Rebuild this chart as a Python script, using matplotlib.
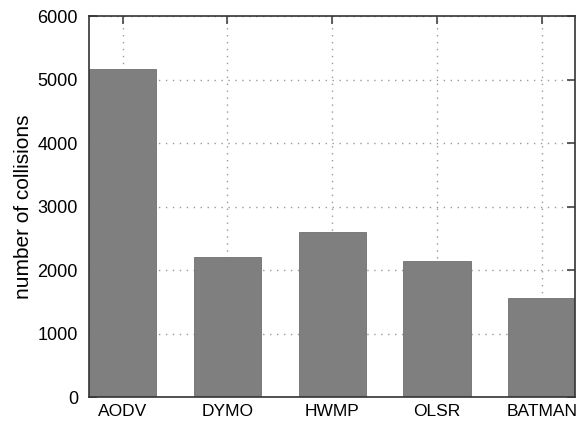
import matplotlib
matplotlib.use("Agg")
import matplotlib.pyplot as plt
import numpy as np

protocols = ["AODV", "DYMO", "HWMP", "OLSR", "BATMAN"]
collisions = [5165, 2205, 2600, 2145, 1560]
yticks = [0, 1000, 2000, 3000, 4000, 5000, 6000]

plt.rcParams['font.family'] = ['Liberation Sans', 'DejaVu Sans']

fig = plt.figure(figsize=(5.76, 4.22), dpi=100)
ax = fig.add_axes([0.1545, 0.0592, 0.8445, 0.9028])

x = np.arange(len(protocols))
width = 0.64
ax.bar(x, collisions, width=width, color="#7f7f7f", edgecolor="#707070",
       linewidth=0.6, zorder=2)

ax.set_xlim(-width / 2, len(protocols) - 1 + width / 2)
ax.set_ylim(0, 6000)
ax.set_yticks(yticks)
ax.set_xticks(x)
ax.set_xticklabels(protocols)

ax.grid(True, linestyle=(0, (1, 4)), color="#9a9a9a", linewidth=1.0, zorder=1)
ax.set_axisbelow(True)

ax.tick_params(axis="both", direction="in", top=True, right=True,
               length=6, width=1.2, color="#444444")
ax.tick_params(axis="x", labelsize=12.5, pad=5)
ax.tick_params(axis="y", labelsize=13, pad=8)
for s in ax.spines.values():
    s.set_linewidth(1.2)
    s.set_color("#333333")

ax.set_ylabel("number of collisions", fontsize=15)
ax.yaxis.set_label_coords(-0.115, 0.5)

fig.savefig("out.png", dpi=100)
